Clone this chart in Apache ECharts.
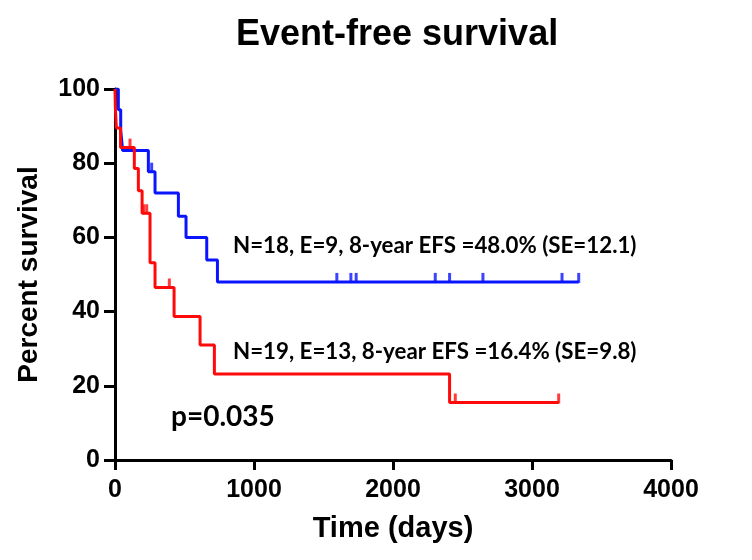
<!DOCTYPE html>
<html>
<head>
<meta charset="utf-8">
<script src="https://cdn.jsdelivr.net/npm/echarts@6/dist/echarts.min.js"></script>
<style>html,body{margin:0;padding:0;background:#fff}#c{width:752px;height:560px}</style>
</head>
<body>
<div id="c"></div>
<script>
// Kaplan-Meier step data (time in days, percent survival)
var blueTimes = [0, 24, 41, 55, 240, 288, 456, 511, 660, 737, 3336];
var blueSurv  = [100, 94.4, 88.9, 83.4, 77.7, 72.0, 65.7, 60.0, 53.9, 48.0, 48.0];
var blueCensorTimes = [264, 1596, 1697, 1735, 2304, 2407, 2647, 3216, 3336];
var blueCensorSurv  = [77.7, 48.0, 48.0, 48.0, 48.0, 48.0, 48.0, 48.0, 48.0];

var redTimes = [0, 3, 10, 40, 139, 168, 195, 252, 288, 425, 612, 715, 2407, 3192];
var redSurv  = [100, 94.7, 89.5, 84.2, 78.6, 72.6, 66.5, 53.2, 46.5, 38.7, 31.0, 23.2, 15.5, 15.5];
var redCensorTimes = [108, 205, 228, 391, 2448, 3192];
var redCensorSurv  = [84.2, 66.5, 66.5, 46.5, 15.5, 15.5];

var xTicks = [0, 1000, 2000, 3000, 4000];
var yTicks = [0, 20, 40, 60, 80, 100];

var blueLabel = 'N=18, E=9, 8-year EFS =48.0% (SE=12.1)';
var redLabel  = 'N=19, E=13, 8-year EFS =16.4% (SE=9.8)';
var pLabel    = 'p=0.035';

function zip(a, b) { return a.map(function (v, i) { return [v, b[i]]; }); }

var BLUE = '#0a14ff', RED = '#ff0a0a';
var axisFont = { fontFamily: 'Liberation Sans', fontWeight: 'bold', color: '#000' };

var chart = echarts.init(document.getElementById('c'), null, { renderer: 'canvas' });
chart.setOption({
  animation: false,
  backgroundColor: '#fff',
  title: {
    text: 'Event-free survival', left: 231, top: 12,
    textStyle: { fontFamily: 'Liberation Sans', fontWeight: 'bold', fontSize: 36, color: '#000' }
  },
  grid: { left: 115, right: 81, top: 89, bottom: 100 },
  xAxis: {
    type: 'value', min: xTicks[0], max: xTicks[xTicks.length - 1], interval: 1000,
    name: 'Time (days)', nameLocation: 'middle', nameGap: 54,
    nameTextStyle: Object.assign({ fontSize: 29 }, axisFont),
    axisLine: { lineStyle: { color: '#000', width: 3 } },
    axisTick: { show: true, length: 10, lineStyle: { color: '#000', width: 3 } },
    axisLabel: Object.assign({ fontSize: 25, margin: 18, formatter: function (v) { return String(v); } }, axisFont),
    splitLine: { show: false }
  },
  yAxis: {
    type: 'value', min: yTicks[0], max: yTicks[yTicks.length - 1], interval: 20,
    name: 'Percent survival', nameLocation: 'middle', nameGap: 72, nameRotate: 90,
    nameTextStyle: Object.assign({ fontSize: 28 }, axisFont),
    axisLine: { show: true, lineStyle: { color: '#000', width: 3 } },
    axisTick: { show: true, length: 11, lineStyle: { color: '#000', width: 3 } },
    axisLabel: Object.assign({ fontSize: 25, margin: 15, formatter: function (v) { return String(v); } }, axisFont),
    splitLine: { show: false }
  },
  series: [
    { type: 'line', step: 'end', data: zip(blueTimes, blueSurv), symbol: 'none',
      lineStyle: { color: BLUE, width: 3 }, z: 3 },
    { type: 'scatter', data: zip(blueCensorTimes, blueCensorSurv), symbol: 'rect',
      symbolSize: [3, 10], symbolOffset: [0, -4], itemStyle: { color: BLUE }, z: 3 },
    { type: 'line', step: 'end', data: zip(redTimes, redSurv), symbol: 'none',
      lineStyle: { color: RED, width: 3 }, z: 4 },
    { type: 'scatter', data: zip(redCensorTimes, redCensorSurv), symbol: 'rect',
      symbolSize: [3, 10], symbolOffset: [0, -4], itemStyle: { color: RED }, z: 4 }
  ],
  graphic: [
    { type: 'text', left: 233, top: 235, z: 10,
      style: { text: blueLabel, fontFamily: 'Lato', fontWeight: 'bold', fontSize: 22.3, fill: '#000' } },
    { type: 'text', left: 233, top: 341, z: 10,
      style: { text: redLabel, fontFamily: 'Lato', fontWeight: 'bold', fontSize: 22.3, fill: '#000' } },
    { type: 'text', left: 171, top: 403, z: 10,
      style: { text: pLabel, fontFamily: 'Lato', fontWeight: 'bold', fontSize: 28, fill: '#000' } }
  ]
});
</script>
</body>
</html>
